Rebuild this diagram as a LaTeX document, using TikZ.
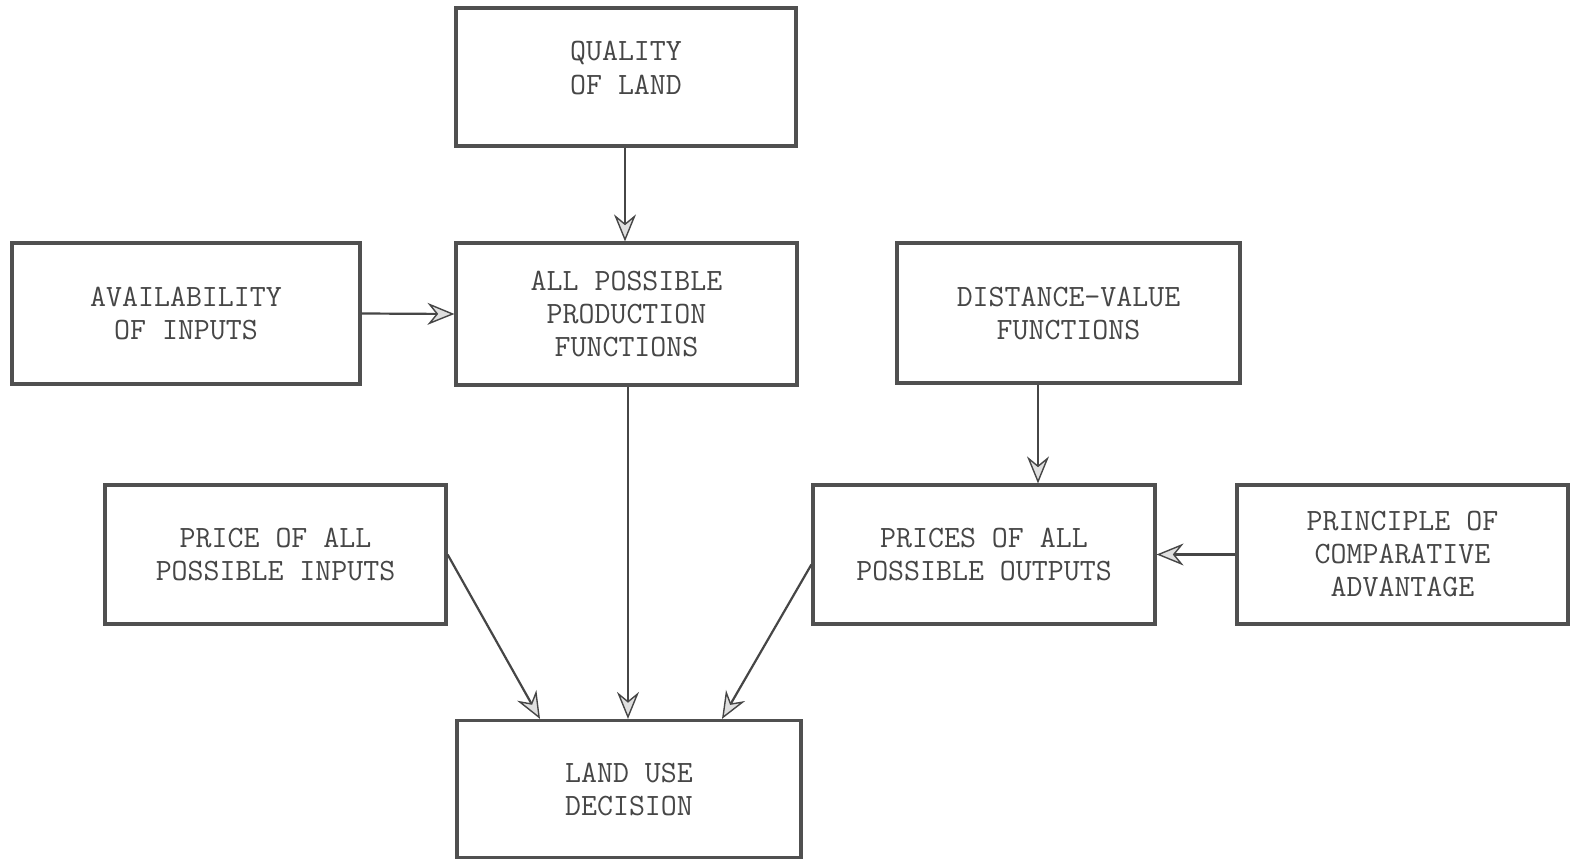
\documentclass[tikz,border=0pt]{standalone}
\usetikzlibrary{arrows.meta}
\definecolor{ink}{RGB}{70,70,70}
\definecolor{boxline}{RGB}{80,80,80}
\tikzset{
  box/.style={draw=boxline, line width=3.2pt, align=center, text=ink,
    font=\ttfamily\fontsize{31}{33}\selectfont, inner sep=0pt},
  flow/.style={draw=ink, line width=2.2pt,
    -{Stealth[length=27pt, width=22pt, inset=9pt, fill=gray!25, line width=1.4pt]}}
}
\begin{document}
\begin{tikzpicture}[x=1pt, y=-1pt]
  \useasboundingbox (0,0) rectangle (1572,861);
  \fill[white] (0,0) rectangle (1572,861);

  % boxes
  \node[box, minimum width=340pt, minimum height=138pt] (quality) at (626,77) {};
  \node[text=ink, font=\ttfamily\fontsize{31}{33}\selectfont, align=center, inner sep=0pt] (qualitytext) at (626,68) {QUALITY\\OF LAND};
  \node[box, minimum width=348pt, minimum height=141pt] (avail) at (186,313.5) {AVAILABILITY\\OF INPUTS};
  \node[box, minimum width=341pt, minimum height=142pt] (prod) at (626.5,314) {ALL POSSIBLE\\PRODUCTION\\FUNCTIONS};
  \node[box, minimum width=343pt, minimum height=140pt] (dist) at (1068.5,313) {DISTANCE-VALUE\\FUNCTIONS};
  \node[box, minimum width=341pt, minimum height=139pt] (pin) at (275.5,554.5) {PRICE OF ALL\\POSSIBLE INPUTS};
  \node[box, minimum width=342pt, minimum height=139pt] (pout) at (984,554.5) {PRICES OF ALL\\POSSIBLE OUTPUTS};
  \node[box, minimum width=331pt, minimum height=139pt] (comp) at (1402.5,554.5) {PRINCIPLE OF\\COMPARATIVE\\ADVANTAGE};
  \node[box, minimum width=344pt, minimum height=137pt] (dec) at (629,789) {LAND USE\\DECISION};

  % connectors
  \draw[flow] ([xshift=-1pt]quality.south) -- ([xshift=-1.5pt]prod.north);
  \draw[flow] (avail.east) -- (prod.west);
  \draw[flow] ([xshift=1.5pt]prod.south) -- ([xshift=-1pt]dec.north);
  \coordinate (dtop) at ([xshift=-30.5pt]dist.south);
  \draw[flow] (dtop) -- (dtop |- pout.north);
  \draw[flow] (comp.west) -- (pout.east);
  \draw[flow] (pin.east) -- ([xshift=-89pt]dec.north);
  \draw[flow] ([yshift=-10pt]pout.west) -- ([xshift=93pt]dec.north);
\end{tikzpicture}
\end{document}
